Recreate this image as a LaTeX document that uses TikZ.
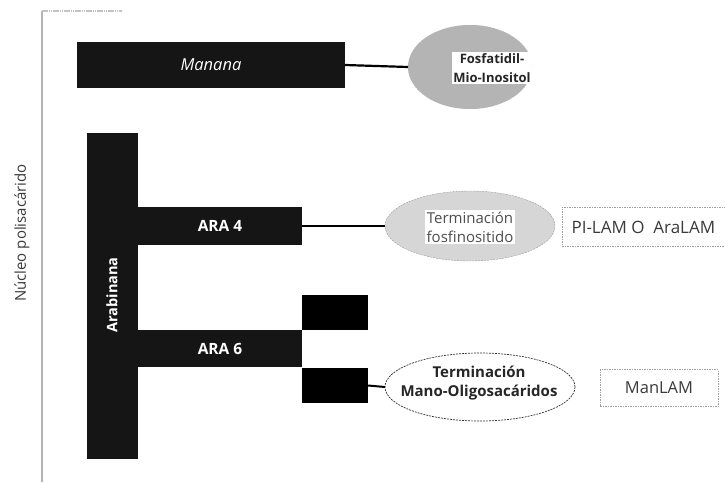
\documentclass[tikz,border=0pt]{standalone}
\usepackage{fontspec}
\setmainfont{Open Sans}
\usetikzlibrary{shapes.geometric}
\definecolor{barc}{HTML}{151515}
\definecolor{axisc}{HTML}{B4B4B4}
\definecolor{fosfc}{HTML}{B4B4B4}
\definecolor{termc}{HTML}{D6D6D6}
\definecolor{txtg}{HTML}{3A3A3A}
\begin{document}
\begin{tikzpicture}[x=1pt,y=-1pt,
  bar/.style={rectangle,fill=barc,draw=none,inner sep=0pt,outer sep=0pt,text=white,font=\bfseries\fontsize{15.5}{17}\selectfont},
  sq/.style={rectangle,fill=black,draw=none,inner sep=0pt,outer sep=0pt,minimum width=66pt,minimum height=35pt},
  ell/.style={ellipse,inner sep=0pt,outer sep=0pt},
  lbox/.style={rectangle,draw=gray!75,dash pattern=on 1.5pt off 1pt,line width=0.7pt,inner sep=0pt,outer sep=0pt,text=txtg},
  conn/.style={line width=1.1pt,black},
  etxt/.style={fill=white,inner sep=1.5pt,align=center,text=txtg}]
\useasboundingbox (0,0) rectangle (725,482);
% axis
\coordinate (axtop) at (42,11);
\coordinate (axbot) at (42,482);
\coordinate (axend) at (122,11);
\draw[axisc,line width=2pt] (axbot) -- (axtop);
\draw[axisc!80,line width=2pt,dash pattern=on 1.5pt off 0.7pt] (axtop) -- (axend);
\node[rotate=90,text=txtg,font=\fontsize{15}{17}\selectfont] (nucleo) at (22,233) {Núcleo polisacárido};
% Manana
\node[bar,font=\mdseries\itshape\fontsize{16.5}{18}\selectfont,minimum width=268pt,minimum height=46pt] (manana) at (211,65) {Manana};
\node[ell,fill=fosfc,draw=gray!70,dotted,minimum width=124pt,minimum height=84pt] (fosf) at (470,67) {};
\node[etxt,text=black!85,font=\bfseries\fontsize{13}{19}\selectfont] (fosftxt) at (492,68) {Fosfatidil-\\Mio-Inositol};
\draw[conn,line width=2.2pt] (manana.east) -- (fosf.west);
% Arabinana
\node[bar,minimum width=51pt,minimum height=326pt] (arab) at (112.5,296) {};
\node[rotate=90,text=white,font=\bfseries\fontsize{14.5}{16}\selectfont] (arabtxt) at (112,295) {Arabinana};
\node[bar,minimum width=164pt,minimum height=38pt] (ara4) at (220,226) {ARA 4};
\node[bar,minimum width=164pt,minimum height=37pt] (ara6) at (220,348.5) {ARA 6};
\node[sq] (sq1) at (335,312.5) {};
\node[sq] (sq2) at (335,385.5) {};
% Terminacion fosfinositido
\node[ell,fill=termc,draw=gray!80,dash pattern=on 2pt off 1pt,minimum width=170pt,minimum height=70pt] (tfos) at (470,226) {};
\node[etxt,text=txtg!90,font=\fontsize{15}{19}\selectfont] (tfostxt) at (470,227) {Terminación\\fosfinositido};
\draw[conn] (ara4.east) -- (tfos.west);
\node[lbox,minimum width=166pt,minimum height=39pt,anchor=west] (pilam) at (562,226.5) {};
\node[text=txtg,font=\fontsize{17}{19}\selectfont,anchor=west] (pilamtxt) at (568,227) {PI-LAM O\ \ AraLAM};
% Mano
\node[ell,fill=white,draw=gray!40!black,dash pattern=on 2pt off 1pt,line width=0.7pt,minimum width=190pt,minimum height=68pt] (mano) at (480,387) {};
\node[etxt,fill=none,text=black!85,font=\bfseries\fontsize{15}{19.5}\selectfont] (manotxt) at (479,383) {Terminación\\Mano-Oligosacáridos};
\draw[conn,line width=2pt] (sq2.east) -- (mano.west);
\node[lbox,minimum width=118pt,minimum height=37pt] (manlam) at (659,388) {};
\node[text=txtg,font=\fontsize{16.5}{18}\selectfont] (manlamtxt) at (659,388) {ManLAM};
\end{tikzpicture}
\end{document}
